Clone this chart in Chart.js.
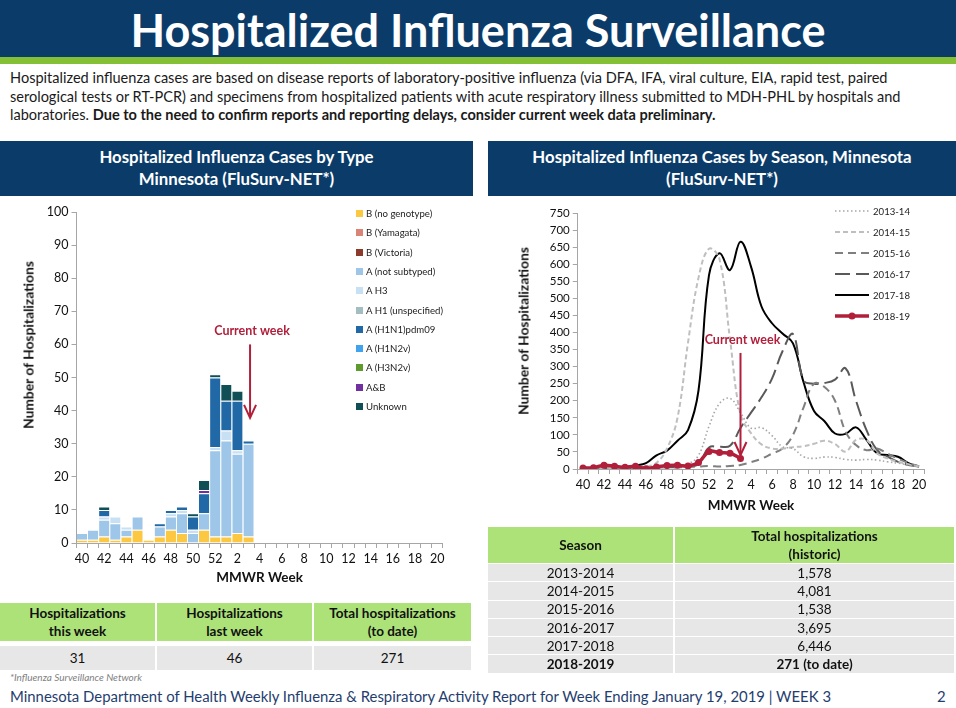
<!DOCTYPE html>
<html>
<head>
<meta charset="utf-8">
<script src="https://cdn.jsdelivr.net/npm/chart.js@4.4.1/dist/chart.umd.min.js"></script>
<style>
  body { margin: 0; width: 956px; height: 708px; position: relative; background: #fff; font-family: Lato, "Open Sans", sans-serif; overflow: hidden; }
  .abs { position: absolute; }
  #title { left: 0; top: 0; width: 956px; height: 57px; background: #0b3c69; color: #fff; font-weight: bold; font-size: 45px; text-align: center; line-height: 60px; }
  #stripe { left: 0; top: 57px; width: 956px; height: 7px; background: #85bf35; }
  #intro { left: 10px; top: 69px; font-size: 14.55px; line-height: 18.6px; color: #1a1a1a; white-space: nowrap; }
  .panel { top: 141px; height: 55px; background: #0b3c69; color: #fff; font-weight: bold; font-size: 16.8px; line-height: 22px; text-align: center; padding-top: 5px; box-sizing: border-box; white-space: nowrap; }
  table { border-collapse: collapse; position: absolute; font-size: 13.5px; color: #111; }
  td { text-align: center; padding: 0; }
  .head td { background: #ade279; font-weight: bold; line-height: 18px; }
  .row td { background: #e7e7e7; }
  #lefttable td { border-right: 2px solid #fff; }
  #righttable td { border-right: 2px solid #fff; border-bottom: 1.5px solid #fff; }
  .legend { font-size: 9.6px; color: #222; }
  .legend div { position: absolute; white-space: nowrap; }
  .sw { display: inline-block; width: 7px; height: 7px; margin-right: 3px; vertical-align: 0; }
  .ytitle { font-weight: bold; font-size: 13.8px; color: #111; white-space: nowrap; transform: translate(-50%, -50%) rotate(-90deg); }
</style>
</head>
<body>

<div id="title" class="abs">Hospitalized Influenza Surveillance</div>
<div id="stripe" class="abs"></div>
<div id="intro" class="abs">Hospitalized influenza cases are based on disease reports of laboratory-positive influenza (via DFA, IFA, viral culture, EIA, rapid test, paired<br>serological tests or RT-PCR) and specimens from hospitalized patients with acute respiratory illness submitted to MDH-PHL by hospitals and<br>laboratories. <b>Due to the need to confirm reports and reporting delays, consider current week data preliminary.</b></div>

<div class="abs panel" style="left:0;width:473px;">Hospitalized Influenza Cases by Type<br>Minnesota (FluSurv-NET*)</div>
<div class="abs panel" style="left:488px;width:468px;">Hospitalized Influenza Cases by Season, Minnesota<br>(FluSurv-NET*)</div>

<canvas id="typeChart" class="abs" width="473" height="400" style="left:0;top:198px;"></canvas>
<div class="abs ytitle" style="left:28px;top:345px;">Number of Hospitalizations</div>
<div id="typeLegend" class="abs legend" style="left:356px;top:208px;"></div>

<canvas id="seasonChart" class="abs" width="468" height="330" style="left:488px;top:198px;"></canvas>
<div class="abs ytitle" style="left:523px;top:331px;">Number of Hospitalizations</div>
<div id="seasonLegend" class="abs legend" style="left:835px;top:206px;"></div>

<table id="lefttable" style="left:0;top:603px;width:473px;">
  <tr class="head" style="height:38px;"><td style="width:155px;">Hospitalizations<br>this week</td><td style="width:155px;">Hospitalizations<br>last week</td><td>Total hospitalizations<br>(to date)</td></tr>
  <tr style="height:5px;"><td colspan="3"></td></tr>
  <tr class="row" style="height:24px;"><td>31</td><td>46</td><td>271</td></tr>
</table>

<table id="righttable" style="left:488px;top:527px;width:468px;">
  <tr class="head" style="height:34px;"><td style="width:185px;">Season</td><td>Total hospitalizations<br>(historic)</td></tr>
  <tr class="row" style="height:18.3px;"><td>2013-2014</td><td>1,578</td></tr>
  <tr class="row" style="height:18.3px;"><td>2014-2015</td><td>4,081</td></tr>
  <tr class="row" style="height:18.3px;"><td>2015-2016</td><td>1,538</td></tr>
  <tr class="row" style="height:18.3px;"><td>2016-2017</td><td>3,695</td></tr>
  <tr class="row" style="height:18.3px;"><td>2017-2018</td><td>6,446</td></tr>
  <tr class="row" style="height:18.3px;font-weight:bold;"><td>2018-2019</td><td>271 (to date)</td></tr>
</table>

<div class="abs" style="left:10px;top:671px;font-size:10px;font-style:italic;color:#7f7f7f;">*Influenza Surveillance Network</div>
<div class="abs" style="left:10px;top:687px;font-size:14.9px;color:#1f3d6e;white-space:nowrap;">Minnesota Department of Health Weekly Influenza &amp; Respiratory Activity Report for Week Ending January 19, 2019 | WEEK 3</div>
<div class="abs" style="left:937px;top:687px;font-size:14.9px;color:#1f3d6e;">2</div>

<script>
// MMWR weeks, season 2018-19 layout (week 40 .. week 20)
var weeks = ['40','41','42','43','44','45','46','47','48','49','50','51','52',
             '1','2','3','4','5','6','7','8','9','10','11','12','13','14','15','16','17','18','19','20'];

// Cases by type, weeks 40 .. 3
var bNoGenotype   = [1,1,2,1,2,4,1,2,4,3,0,4,2,2,3,2];
var bYamagata     = [0,0,0,0,0,0,0,0,0,0,0,0,0,0,0,0];
var bVictoria     = [0,0,0,0,0,0,0,0,0,0,0,0,0,0,0,0];
var aNotSubtyped  = [2,3,5,5,2,4,0,3,4,6,3,5,26,29,24,28];
var aH3           = [0,0,1,2,1,0,0,0,1,1,1,0,1,3,1,0];
var aH1Unspec     = [0,0,0,0,0,0,0,0,0,0,0,0,0,0,0,0];
var aH1N1pdm09    = [0,0,2,0,0,0,0,1,1,1,4,6,21,9,15,1];
var aH1N2v        = [0,0,0,0,0,0,0,0,0,0,0,0,0,0,0,0];
var aH3N2v        = [0,0,0,0,0,0,0,0,0,0,0,0,0,0,0,0];
var aAndB         = [0,0,0,0,0,0,0,0,0,0,0,1,0,0,0,0];
var unknownType   = [0,0,1,0,0,0,0,0,0,0,1,3,1,5,3,0];

// Cases by season
var s2013 = [2,2,3,3,3,4,4,5,7,12,15,40,125,192,207,165,120,121,98,65,60,36,31,35,34,28,26,28,26,21,17,12,7];
var s2014 = [2,2,3,3,4,5,7,18,60,150,370,560,645,615,380,160,105,72,60,60,64,67,74,83,73,51,85,85,46,31,21,14,7];
var s2015 = [2,2,2,3,3,3,4,4,5,5,6,7,9,7,9,12,20,30,45,60,100,180,250,240,200,110,70,55,60,45,30,18,8];
var s2016 = [2,2,2,2,3,3,3,4,5,6,8,15,63,65,68,120,165,210,265,345,395,260,250,252,262,295,200,114,56,36,21,12,7];
var s2017 = [2,2,4,4,6,10,17,40,54,83,114,230,568,632,583,666,593,476,427,397,368,255,170,140,104,103,122,85,46,41,36,17,7];
var s2018 = [3,4,11,8,5,8,1,6,10,11,9,19,51,48,46,31];

var RED = '#b11f3a';
var AXIS = '#a6a6a6';
var FONT = 'Lato';

/**
 * "Current week" arrow
 */
var currentWeek = {
    id: 'currentWeek',
    afterDatasetsDraw: function (chart, args, o) {
        var ctx = chart.ctx;
        var px = chart.scales.x.getPixelForValue(o.index) + o.dx;
        var top = chart.scales.y.getPixelForValue(o.from);
        var bottom = chart.scales.y.getPixelForValue(o.to);
        ctx.save();
        ctx.strokeStyle = RED;
        ctx.lineWidth = 2;
        ctx.beginPath();
        ctx.moveTo(px, top);
        ctx.lineTo(px, bottom);
        ctx.stroke();
        ctx.beginPath();
        ctx.moveTo(px - 6, bottom - 13);
        ctx.lineTo(px, bottom);
        ctx.lineTo(px + 6, bottom - 13);
        ctx.stroke();
        ctx.fillStyle = RED;
        ctx.font = 'bold 12.5px ' + FONT;
        ctx.textAlign = 'center';
        ctx.fillText('Current week', px + o.tx, top - 9);
        ctx.restore();
    }
};

function axisCommon(titleText) {
    return {
        border: { display: true, color: AXIS, width: 1 },
        grid: { display: true, drawOnChartArea: false, drawTicks: true, tickLength: 5, color: AXIS },
        ticks: { color: '#111', font: { family: FONT, size: 12.5 }, padding: 3 },
        title: { display: !!titleText, text: titleText, color: '#111', font: { family: FONT, size: 13.5, weight: 'bold' }, padding: 2 }
    };
}

/**
 * Cases by type (stacked bars)
 */
var typeSeries = [
    ['B (no genotype)', bNoGenotype, '#fcc842'],
    ['B (Yamagata)', bYamagata, '#d98474'],
    ['B (Victoria)', bVictoria, '#8b3a2b'],
    ['A (not subtyped)', aNotSubtyped, '#9dc6e8'],
    ['A H3', aH3, '#c8e0f4'],
    ['A H1 (unspecified)', aH1Unspec, '#a3bdc1'],
    ['A (H1N1)pdm09', aH1N1pdm09, '#2169a6'],
    ['A (H1N2v)', aH1N2v, '#3fa3ef'],
    ['A (H3N2v)', aH3N2v, '#5e9a2c'],
    ['A&B', aAndB, '#7030a0'],
    ['Unknown', unknownType, '#0f4f55']
];

var typeX = axisCommon('MMWR Week');
typeX.stacked = true;
typeX.ticks.autoSkip = false;
typeX.ticks.maxRotation = 0;
typeX.ticks.callback = function (v, i) { return i % 2 === 0 ? weeks[i] : ''; };
typeX.afterFit = function (s) { s.height = 45; };

var typeY = axisCommon('');
typeY.stacked = true;
typeY.min = 0;
typeY.max = 100;
typeY.ticks.stepSize = 10;
typeY.ticks.autoSkip = false;
typeY.afterFit = function (s) { s.width = 58.5; };

new Chart(document.getElementById('typeChart'), {
    type: 'bar',
    data: {
        labels: weeks,
        datasets: typeSeries.map(function (t) {
            return {
                label: t[0], data: t[1], backgroundColor: t[2],
                borderColor: '#fff', borderWidth: { top: 1 }, borderSkipped: 'start',
                barPercentage: 1, categoryPercentage: 0.93
            };
        })
    },
    options: {
        responsive: false, animation: false,
        layout: { padding: { left: 18, right: 30.2, top: 14, bottom: 10 } },
        scales: { x: typeX, y: typeY },
        plugins: {
            legend: { display: false }, tooltip: { enabled: false },
            currentWeek: { index: 15, dx: 1.5, from: 60, to: 37.8, tx: 2 }
        }
    },
    plugins: [currentWeek]
});

var typeLegend = document.getElementById('typeLegend');
typeSeries.forEach(function (t, i) {
    var d = document.createElement('div');
    d.style.top = (i * 19.3) + 'px';
    d.innerHTML = '<span class="sw" style="background:' + t[2] + '"></span>' + t[0].replace('&', '&amp;');
    typeLegend.appendChild(d);
});

/**
 * Cases by season (lines)
 */
var seasonSeries = [
    ['2013-14', s2013, '#a6a6a6', 1.6, [1.5, 2.5]],
    ['2014-15', s2014, '#bfbfbf', 2, [5, 3]],
    ['2015-16', s2015, '#7f7f7f', 2, [8, 5]],
    ['2016-17', s2016, '#595959', 2, [15, 6]],
    ['2017-18', s2017, '#000000', 2, []],
    ['2018-19', s2018, RED, 3.5, []]
];

var seasonX = axisCommon('MMWR Week');
seasonX.offset = true;
seasonX.grid.offset = true;
seasonX.ticks.autoSkip = false;
seasonX.ticks.maxRotation = 0;
seasonX.ticks.callback = function (v, i) { return i % 2 === 0 ? weeks[i] : ''; };
seasonX.afterFit = function (s) { s.height = 47; };

var seasonY = axisCommon('');
seasonY.min = 0;
seasonY.max = 750;
seasonY.ticks.stepSize = 50;
seasonY.ticks.autoSkip = false;
seasonY.ticks.font = { family: FONT, size: 11.5 };
seasonY.afterFit = function (s) { s.width = 65.75; };

new Chart(document.getElementById('seasonChart'), {
    type: 'line',
    data: {
        labels: weeks,
        datasets: seasonSeries.map(function (s) {
            var last = s[0] === '2018-19';
            return {
                label: s[0], data: s[1], borderColor: s[2], backgroundColor: s[2],
                borderWidth: s[3], borderDash: s[4], tension: 0.4,
                pointRadius: last ? 3.5 : 0, pointBorderWidth: 0, order: last ? 0 : 1
            };
        })
    },
    options: {
        responsive: false, animation: false,
        layout: { padding: { left: 24, right: 31.75, top: 15, bottom: 12 } },
        scales: { x: seasonX, y: seasonY },
        plugins: {
            legend: { display: false }, tooltip: { enabled: false },
            currentWeek: { index: 15, dx: 0, from: 340, to: 41, tx: 2 }
        }
    },
    plugins: [currentWeek]
});

var seasonLegend = document.getElementById('seasonLegend');
seasonSeries.forEach(function (s, i) {
    var d = document.createElement('div');
    d.style.top = (i * 21) + 'px';
    var dash = s[4].length ? ' stroke-dasharray="' + s[4].join(',') + '"' : '';
    var dot = s[0] === '2018-19' ? '<circle cx="17" cy="5" r="3.5" fill="' + s[2] + '"/>' : '';
    d.innerHTML = '<svg width="35" height="10" style="vertical-align:-1px;margin-right:3px"><line x1="0" y1="5" x2="34" y2="5" stroke="' + s[2] + '" stroke-width="' + s[3] + '"' + dash + '/>' + dot + '</svg>' + s[0];
    seasonLegend.appendChild(d);
});
</script>
</body>
</html>
